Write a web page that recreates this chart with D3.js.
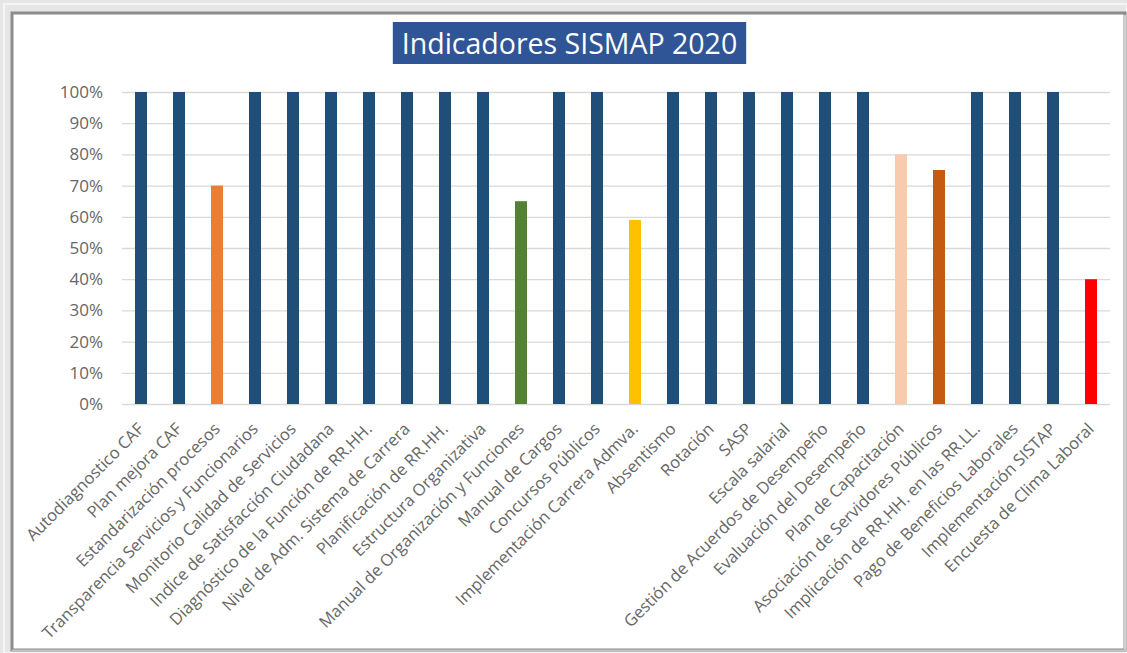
<!doctype html>
<html>
<head>
<meta charset="utf-8">
<title>Indicadores SISMAP 2020</title>
<script src="https://cdn.jsdelivr.net/npm/d3@7"></script>
<style>
    body { margin: 0; background: #e6e6e6; }
    svg { display: block; font-family: "Open Sans", sans-serif; }
</style>
</head>
<body>
<svg width="1127" height="653"></svg>
<script>
    // datos del grafico
    var categorias = [
        "Autodiagnostico CAF", "Plan mejora CAF", "Estandarización procesos",
        "Transparencia Servicios y Funcionarios", "Monitorio Calidad de Servicios",
        "Indice de Satisfacción Ciudadana", "Diagnóstico de la Función de RR.HH.",
        "Nivel de Adm. Sistema de Carrera", "Planificación de RR.HH.", "Estructura Organizativa",
        "Manual de Organización y Funciones", "Manual de Cargos", "Concursos Públicos",
        "Implementación Carrera Admva.", "Absentismo", "Rotación", "SASP", "Escala salarial",
        "Gestión de Acuerdos de Desempeño", "Evaluación del Desempeño", "Plan de Capacitación",
        "Asociación de Servidores Públicos", "Implicación de RR.HH. en las RR.LL.",
        "Pago de Beneficios Laborales", "Implementación SISTAP", "Encuesta de Clima Laboral"
    ];
    var valores = [1, 1, 0.70, 1, 1, 1, 1, 1, 1, 1, 0.65, 1, 1, 0.59, 1, 1, 1, 1, 1, 1, 0.80, 0.75, 1, 1, 1, 0.40];
    var colores = [
        "#1f4e79", "#1f4e79", "#ed7d31", "#1f4e79", "#1f4e79", "#1f4e79", "#1f4e79", "#1f4e79",
        "#1f4e79", "#1f4e79", "#548235", "#1f4e79", "#1f4e79", "#ffc000", "#1f4e79", "#1f4e79",
        "#1f4e79", "#1f4e79", "#1f4e79", "#1f4e79", "#f8cbad", "#c55a11", "#1f4e79", "#1f4e79",
        "#1f4e79", "#ff0000"
    ];
    var ticksY = [0, 0.1, 0.2, 0.3, 0.4, 0.5, 0.6, 0.7, 0.8, 0.9, 1];
    var titulo = "Indicadores SISMAP 2020";

    var svg = d3.select("svg");

    //marco
    svg.append("rect").attr("x", 4).attr("y", 4).attr("width", 1123).attr("height", 649)
        .attr("fill", "none").attr("stroke", "#fafafa").attr("stroke-width", 1.5);
    svg.append("rect").attr("x", 12).attr("y", 13).attr("width", 1113).attr("height", 637)
        .attr("fill", "#fff").attr("stroke", "#8c8c8c").attr("stroke-width", 3);
    svg.append("line").attr("x1", 1125).attr("x2", 1125).attr("y1", 15).attr("y2", 650)
        .attr("stroke", "#d0d0d0").attr("stroke-width", 2);
    svg.append("line").attr("x1", 12).attr("x2", 1127).attr("y1", 650.5).attr("y2", 650.5)
        .attr("stroke", "#c4c4c4").attr("stroke-width", 2);

    //escalas
    var x = d3.scaleBand()
        .domain(categorias)
        .range([122, 1110])
        .paddingInner(0.684)
        .paddingOuter(0.342);
    var y = d3.scaleLinear().domain([0, 1]).range([404, 92]);

    //lineas de cuadricula
    var grid = svg.append("g")
        .attr("transform", "translate(122,0)")
        .call(d3.axisLeft(y).tickValues(ticksY).tickSize(-988).tickFormat(""));
    grid.select(".domain").remove();
    grid.selectAll("line").attr("stroke", "#d9d9d9").attr("stroke-width", 1.3);

    //eje Y
    var ejeY = svg.append("g")
        .attr("transform", "translate(122,0)")
        .call(d3.axisLeft(y).tickValues(ticksY).tickSize(0).tickPadding(19).tickFormat(d3.format(".0%")));
    ejeY.select(".domain").remove();
    ejeY.selectAll("text")
        .attr("fill", "#666")
        .style("font-size", "17px")
        .style("font-family", "Open Sans");

    //barras
    svg.append("g")
        .selectAll("rect")
        .data(valores)
        .enter().append("rect")
        .attr("x", function (d, i) { return x(categorias[i]); })
        .attr("y", function (d) { return y(d); })
        .attr("width", x.bandwidth())
        .attr("height", function (d) { return y(0) - y(d); })
        .attr("fill", function (d, i) { return colores[i]; });

    //eje X
    var ejeX = svg.append("g")
        .attr("transform", "translate(0,404)")
        .call(d3.axisBottom(x).tickSize(0).tickPadding(0));
    ejeX.select(".domain").remove();
    ejeX.selectAll("text")
        .attr("text-anchor", "end")
        .attr("fill", "#666")
        .style("font-size", "16.5px")
        .style("font-family", "Open Sans")
        .attr("dy", "0")
        .attr("transform", "translate(4,26) rotate(-45)");

    //titulo
    var gTitulo = svg.append("g");
    var rectTitulo = gTitulo.append("rect").attr("fill", "#2f5597");
    var textoTitulo = gTitulo.append("text")
        .attr("x", 569.5)
        .attr("y", 54)
        .attr("text-anchor", "middle")
        .attr("fill", "#fff")
        .style("font-size", "28.5px")
        .style("font-family", "Open Sans")
        .text(titulo);
    var w = textoTitulo.node().getComputedTextLength();
    rectTitulo.attr("x", 569.5 - w / 2 - 9).attr("y", 22)
        .attr("width", w + 18).attr("height", 42);
</script>
</body>
</html>
